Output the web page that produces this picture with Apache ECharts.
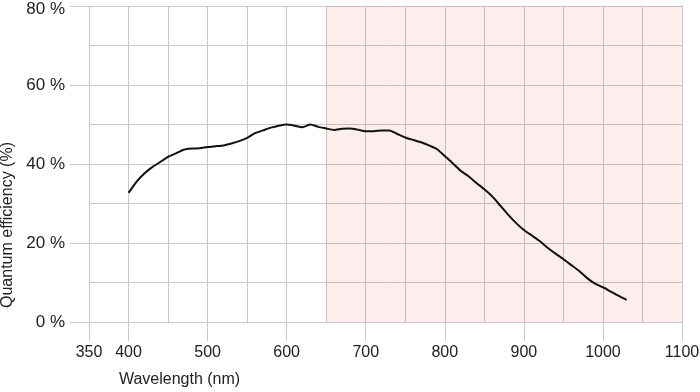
<!DOCTYPE html>
<html>
<head>
<meta charset="utf-8">
<script src="https://cdn.jsdelivr.net/npm/echarts@6/dist/echarts.min.js"></script>
<style>
  html, body { margin: 0; padding: 0; background: #fff; }
  #chart { width: 700px; height: 392px; }
</style>
</head>
<body>
<div id="chart"></div>
<script>
// wavelength (nm) and quantum efficiency (%)
var wavelengths = [400, 410, 420, 430, 440, 450, 460, 470, 480, 490, 500, 510, 520, 530, 540, 550, 560, 570, 580, 590,
  600, 610, 620, 630, 640, 650, 660, 670, 680, 690, 700, 710, 720, 730, 740, 750, 760, 770, 780, 790,
  800, 810, 820, 830, 840, 850, 860, 870, 880, 890, 900, 910, 920, 930, 940, 950, 960, 970, 980, 990,
  1000, 1010, 1020, 1030];
var efficiency = [32.7, 35.5, 37.6, 39.2, 40.5, 41.8, 42.7, 43.6, 43.9, 44.0, 44.3, 44.5, 44.7, 45.2, 45.8, 46.6, 47.8, 48.5, 49.2, 49.7,
  50.0, 49.7, 49.3, 50.0, 49.4, 49.0, 48.6, 48.9, 49.0, 48.7, 48.3, 48.3, 48.5, 48.5, 47.6, 46.7, 46.1, 45.5, 44.7, 43.8,
  42.0, 40.2, 38.3, 36.9, 35.2, 33.6, 31.8, 29.5, 27.2, 25.1, 23.3, 21.9, 20.5, 18.8, 17.3, 15.9, 14.4, 12.9, 11.1, 9.7,
  8.8, 7.7, 6.6, 5.6];
var xTickLabels = [350, 400, 500, 600, 700, 800, 900, 1000, 1100];
var yTickLabels = [0, 20, 40, 60, 80];
var nirBand = [650, 1100]; // shaded region

var chart = echarts.init(document.getElementById('chart'));

var gridColor = '#c8c8c8';
var textColor = '#222';
var font = 'Liberation Sans';

var option = {
  animation: false,
  grid: { left: 89, right: 18, top: 6, bottom: 70, outerBoundsMode: 'none', containLabel: false },
  xAxis: [
    {
      type: 'value', min: 350, max: 1100, interval: 50,
      name: 'Wavelength (nm)', nameLocation: 'middle', nameGap: 50,
      nameTextStyle: { color: textColor, fontSize: 16, fontFamily: font, padding: [0, 412, 0, 0] },
      axisLine: { show: true, lineStyle: { color: gridColor } },
      axisTick: { show: true, length: 19, customValues: xTickLabels, lineStyle: { color: gridColor } },
      axisLabel: {
        customValues: xTickLabels, color: textColor, fontSize: 16, fontFamily: font, margin: 23,
        formatter: function (v) { return String(v); }
      },
      splitLine: { show: false }
    },
    {
      // grid lines every 50 nm
      type: 'value', min: 350, max: 1100, interval: 50,
      axisLine: { show: false }, axisTick: { show: false }, axisLabel: { show: false },
      splitLine: { show: true, lineStyle: { color: gridColor, width: 1 } }
    }
  ],
  yAxis: [
    {
      type: 'value', min: 0, max: 80, interval: 10,
      name: 'Quantum efficiency (%)', nameLocation: 'middle', nameGap: 70,
      nameTextStyle: { color: textColor, fontSize: 16, fontFamily: font, padding: [0, 122, 0, 0] },
      axisLine: { show: false },
      axisTick: { show: true, length: 19, customValues: yTickLabels, lineStyle: { color: gridColor } },
      axisLabel: {
        customValues: yTickLabels, color: textColor, fontSize: 17, fontFamily: font, margin: 24,
        formatter: function (v) {
          // top label sits a little lower so it is not cut off
          return v === 80 ? '{top|' + v + ' %}' : v + ' %';
        },
        rich: {
          top: { fontSize: 17, fontFamily: font, color: textColor, padding: [6, 0, 0, 0] }
        }
      },
      splitLine: { show: false }
    },
    {
      type: 'value', min: 0, max: 80, interval: 10,
      axisLine: { show: false }, axisTick: { show: false }, axisLabel: { show: false },
      splitLine: { show: true, lineStyle: { color: gridColor, width: 1 } }
    }
  ],
  series: [
    {
      type: 'line',
      xAxisIndex: 0, yAxisIndex: 0,
      data: wavelengths.map(function (w, i) { return [w, efficiency[i]]; }),
      showSymbol: false,
      smooth: 0.2,
      lineStyle: { color: '#111', width: 2 },
      markArea: {
        silent: true,
        itemStyle: { color: 'rgba(240,80,80,0.1)' },
        data: [[{ xAxis: nirBand[0] }, { xAxis: nirBand[1] }]]
      }
    }
  ]
};

chart.setOption(option);
window.addEventListener('resize', chart.resize);
</script>
</body>
</html>
